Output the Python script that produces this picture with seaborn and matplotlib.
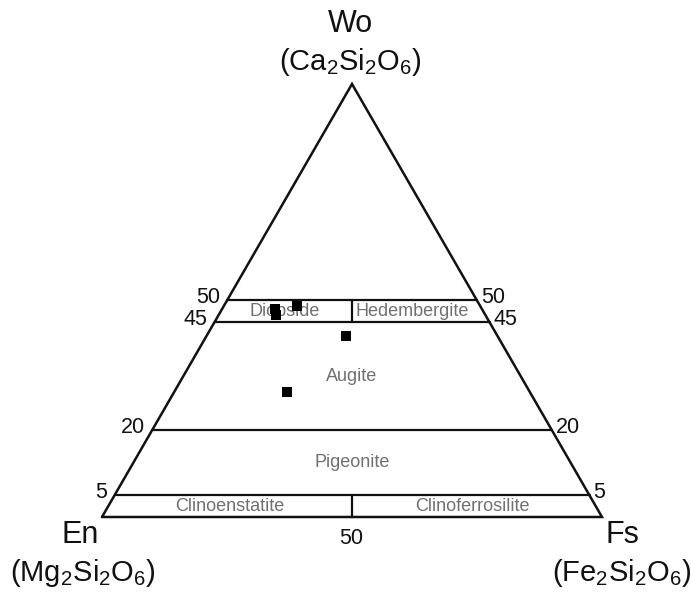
import numpy as np
import pandas as pd
import matplotlib
matplotlib.use("Agg")
import matplotlib.pyplot as plt
import seaborn as sns

# ---- data (ternary, percent) ----
wo_vals = [48.7, 48.0, 46.7, 41.8, 28.9]
fs_vals = [14.6, 10.6, 11.5, 27.9, 22.6]
en_vals = [100 - w - f for w, f in zip(wo_vals, fs_vals)]

boundary_levels = [50, 45, 20, 5]
tick_labels = ["50", "45", "20", "5"]
field_names = ["Diopside", "Hedembergite", "Augite", "Pigeonite", "Clinoenstatite", "Clinoferrosilite"]
# (Wo, Fs) anchor for each field name
field_wo = [47.5, 47.5, 32.5, 12.5, 2.5, 2.5]
field_fs = [12.85, 38.25, 33.75, 43.75, 24.2, 72.8]

sns.set_theme(style="white")
plt.rcParams["font.family"] = ["Liberation Sans", "DejaVu Sans"]
plt.rcParams["mathtext.fontset"] = "custom"
plt.rcParams["mathtext.rm"] = "Liberation Sans"
plt.rcParams["mathtext.default"] = "regular"


def tern(wo, fs):
    wo = np.asarray(wo, dtype=float)
    fs = np.asarray(fs, dtype=float)
    x = (fs + wo / 2.0) / 100.0
    y = wo / 100.0 * np.sqrt(3) / 2.0
    return x, y


fig = plt.figure(figsize=(6.91, 5.93), dpi=100)
ax = fig.add_axes([0, 0, 1, 1])
ax.set_xlim(-0.204, 1.178)
ax.set_ylim(-0.152, 1.034)
ax.axis("off")

lc = "#111111"
# outline
ox, oy = tern([0, 0, 100, 0], [0, 100, 0, 0])
ax.plot(ox, oy, color=lc, lw=1.8, solid_joinstyle="miter", zorder=2)

# horizontal boundaries
for w in boundary_levels:
    bx, by = tern([w, w], [0, 100 - w])
    ax.plot(bx, by, color=lc, lw=1.6, zorder=2)

# dividers (En = Fs)
for w0, w1 in [(45, 50), (0, 5)]:
    dx, dy = tern([w0, w1], [(100 - w0) / 2, (100 - w1) / 2])
    ax.plot(dx, dy, color=lc, lw=1.6, zorder=2)

# tick labels on both sides
for w, t in zip(boundary_levels, tick_labels):
    lx, ly = tern(w, 0)
    ax.annotate(t, (lx, ly), xytext=(-7, 3), textcoords="offset pixels",
                ha="right", va="center", fontsize=15.5, color="#111111")
    rx, ry = tern(w, 100 - w)
    ax.annotate(t, (rx, ry), xytext=(4, 3), textcoords="offset pixels",
                ha="left", va="center", fontsize=15.5, color="#111111")
bx, by = tern(0, 50)
ax.annotate("50", (bx, by), xytext=(-1, -21), textcoords="offset pixels",
            ha="center", va="center", fontsize=15.5, color="#111111")

# field names
for name, w, f in zip(field_names, field_wo, field_fs):
    fx, fy = tern(w, f)
    ax.text(fx, fy, name, ha="center", va="center", fontsize=13, color="#707070", zorder=1)

# data points
px, py = tern(wo_vals, fs_vals)
df = pd.DataFrame({"x": px, "y": py, "En": en_vals})
sns.scatterplot(data=df, x="x", y="y", marker="s", s=62, color="black",
                edgecolor="black", linewidth=0, ax=ax, zorder=3, legend=False)
ax.set_xlabel("")
ax.set_ylabel("")
ax.axis("off")

# vertex labels (pixel positions -> figure fraction)
W, H = 691, 593
def ft(xp, yp, s, size):
    fig.text(xp / W, 1 - yp / H, s, ha="center", va="center", fontsize=size, color="#111111")

ft(350, 24, "Wo", 22)
ft(350, 62, r"(Ca$_2$Si$_2$O$_6$)", 21)
ft(80, 535, "En", 22)
ft(83, 573, r"(Mg$_2$Si$_2$O$_6$)", 21)
ft(622, 535, "Fs", 22)
ft(622, 573, r"(Fe$_2$Si$_2$O$_6$)", 21)

fig.savefig("out.png", dpi=100)
